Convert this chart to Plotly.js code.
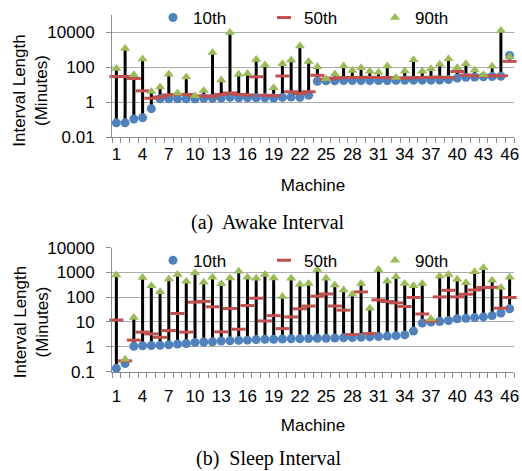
<!DOCTYPE html>
<html>
<head>
<meta charset="utf-8">
<script src="https://cdn.plot.ly/plotly-3.0.1.min.js"></script>
<style>html,body{margin:0;padding:0;background:#fff;}#chart{width:522px;height:471px;}</style>
</head>
<body>
<div id="chart"></div>
<script>
// ---- data ----
var machines = [1,2,3,4,5,6,7,8,9,10,11,12,13,14,15,16,17,18,19,20,21,22,23,24,25,26,27,28,29,30,31,32,33,34,35,36,37,38,39,40,41,42,43,44,45,46];
var xTickVals = [1,4,7,10,13,16,19,22,25,28,31,34,37,40,43,46];
var xTickText = ["1","4","7","10","13","16","19","22","25","28","31","34","37","40","43","46"];

// (a) Awake interval, minutes
var awakeP10 = [0.066,0.066,0.11,0.13,0.43,1.6,1.6,1.6,1.6,1.6,1.7,1.7,1.75,1.9,1.8,1.8,1.8,1.8,1.75,1.9,2.0,1.9,2.5,16,17,17,17.5,17.5,17.5,17.5,17.5,17.5,18,18,18.5,18.5,18.5,19,20,24,27,28,29,30,31,480];
var awakeP50 = [30,30,23,4.5,1.7,2.0,2.6,2.8,2.8,2.2,2.3,2.2,2.8,3.4,2.8,2.6,29,2.5,2.4,32,4,3.2,4,35,21,24,26,26,26,27,26,26,24,24,26,26,27,27,26,58,36,32,32,33,33,220];
var awakeP90 = [85,1200,38,300,4.2,7.5,40,3.4,28,2.4,4.7,700,19,9800,40,45,285,137,6.8,160,260,1700,220,110,22,42,120,66,95,60,52,120,26,62,270,60,83,150,310,95,160,70,38,115,13000,400];

// (b) Sleep interval, minutes
var sleepP10 = [0.135,0.21,1.05,1.1,1.12,1.15,1.2,1.3,1.35,1.5,1.55,1.6,1.7,1.75,1.8,1.85,1.95,2.0,2.0,2.05,2.1,2.1,2.15,2.2,2.2,2.25,2.3,2.35,2.4,2.5,2.6,2.7,2.8,3.0,4.3,9.0,10,10.5,11.5,13.5,14,15,16,18,23,34];
var sleepP50 = [12,0.27,1.85,3.9,3.3,2.4,4.5,22,3.9,63,68,41,4,35,5.1,46,91,11,18,5.4,16,34,44,110,135,44,30,3.1,163,3.4,78,67,59,42,97,21,11,103,190,103,132,195,245,250,36,97];
var sleepP90 = [780,0.31,15,620,290,165,540,830,440,970,400,630,345,600,1100,630,575,820,600,106,575,330,360,1300,575,310,195,132,360,36,1300,450,670,360,290,360,13.5,710,830,525,385,1070,1540,480,245,630];

var awakeYTickVals = [0.01,1,100,10000];
var awakeYTickText = ["0.01","1","100","10000"];
var sleepYTickVals = [0.1,1,10,100,1000,10000];
var sleepYTickText = ["0.1","1","10","100","1000","10000"];

var seriesNames = ["10th","50th","90th"];
var yTitle = "Interval Length<br>(Minutes)";
var xTitle = "Machine";
var captionA = "(a)\u00a0 Awake Interval";
var captionB = "(b)\u00a0 Sleep Interval";

// ---- styles ----
var BLUE = "#4F81BD", RED = "#C0504D", GREEN = "#9BBB59";
var GRID = "#ABABAB", AXIS = "#8C8C8C";
var FONT = "Liberation Sans, Arial, sans-serif";

function rangeLines(p10, p90, xa, ya) {
  var xs = [], ys = [];
  for (var i = 0; i < machines.length; i++) {
    xs.push(machines[i], machines[i], null);
    ys.push(p10[i], p90[i], null);
  }
  return {x: xs, y: ys, xaxis: xa, yaxis: ya, mode: "lines", type: "scatter",
    line: {color: "#000", width: 3}, showlegend: false, hoverinfo: "skip", cliponaxis: false};
}
function pts(vals, idx, xa, ya, leg) {
  var marker;
  if (idx === 0) marker = {symbol: "circle", size: 9, color: BLUE, line: {width: 0}};
  else if (idx === 1) marker = {symbol: "line-ew", size: 10, color: RED, line: {color: RED, width: 3}};
  else marker = {symbol: "triangle-up", size: 9, color: GREEN, line: {width: 0}};
  return {x: machines, y: vals, xaxis: xa, yaxis: ya, mode: "markers", type: "scatter",
    name: seriesNames[idx], marker: marker, legend: leg, cliponaxis: false};
}

var data = [
  rangeLines(awakeP10, awakeP90, "x", "y"),
  pts(awakeP10, 0, "x", "y", "legend"),
  pts(awakeP50, 1, "x", "y", "legend"),
  pts(awakeP90, 2, "x", "y", "legend"),
  rangeLines(sleepP10, sleepP90, "x2", "y2"),
  pts(sleepP10, 0, "x2", "y2", "legend2"),
  pts(sleepP50, 1, "x2", "y2", "legend2"),
  pts(sleepP90, 2, "x2", "y2", "legend2")
];

var H = 471;
function xaxisDef(anchor, standoffLabels, titleStandoff) {
  return {
    anchor: anchor, domain: [0, 1], range: [0.5, 46.5],
    tickmode: "array", tickvals: xTickVals, ticktext: xTickText,
    ticks: "", ticklabelstandoff: standoffLabels,
    minor: {ticks: "outside", ticklen: 5, tick0: 0.5, dtick: 1, tickcolor: AXIS, tickwidth: 1, showgrid: false},
    showgrid: false, zeroline: false, showline: true, linecolor: AXIS, linewidth: 1,
    tickfont: {family: FONT, size: 17, color: "#000"},
    title: {text: xTitle, font: {family: FONT, size: 17, color: "#000"}, standoff: titleStandoff},
    fixedrange: true
  };
}
function yaxisDef(anchor, rng, dom, tv, tt) {
  return {
    anchor: anchor, type: "log", range: rng, domain: dom,
    tickmode: "array", tickvals: tv, ticktext: tt,
    ticks: "outside", ticklen: 5, tickcolor: AXIS, ticklabelstandoff: 8,
    showgrid: true, gridcolor: GRID, gridwidth: 1,
    showline: true, linecolor: AXIS, linewidth: 1, zeroline: false,
    tickfont: {family: FONT, size: 17, color: "#000"},
    fixedrange: true
  };
}

var L = 112, R = 8, PW = 522 - L - R;
function px2x(px) { return (px - L) / PW; }
function px2y(py) { return 1 - py / H; }

var layout = {
  width: 522, height: 471,
  margin: {l: L, r: R, t: 0, b: 0},
  paper_bgcolor: "#fff", plot_bgcolor: "#fff",
  font: {family: FONT, size: 17, color: "#000"},
  xaxis: xaxisDef("y", 1, 16),
  yaxis: yaxisDef("x", [-2, 5], [px2y(134.3), px2y(11.1)], awakeYTickVals, awakeYTickText),
  xaxis2: xaxisDef("y2", 9, 14),
  yaxis2: yaxisDef("x2", [-1, 4], [px2y(370.7), px2y(245.7)], sleepYTickVals, sleepYTickText),
  legend: {orientation: "h", x: px2x(153), xanchor: "left", y: px2y(14), yanchor: "middle",
    bgcolor: "rgba(0,0,0,0)", font: {family: FONT, size: 17, color: "#000"},
    entrywidth: 66, entrywidthmode: "pixels", itemwidth: 30, tracegroupgap: 0},
  legend2: {orientation: "h", x: px2x(153), xanchor: "left", y: px2y(259), yanchor: "middle",
    bgcolor: "rgba(0,0,0,0)", font: {family: FONT, size: 17, color: "#000"},
    entrywidth: 66, entrywidthmode: "pixels", itemwidth: 30, tracegroupgap: 0},
  annotations: [
    {text: yTitle, textangle: -90, xref: "paper", yref: "paper", x: px2x(31), y: px2y(87.5),
      xanchor: "center", yanchor: "middle", showarrow: false, font: {family: FONT, size: 17, color: "#000"}},
    {text: yTitle, textangle: -90, xref: "paper", yref: "paper", x: px2x(31), y: px2y(321),
      xanchor: "center", yanchor: "middle", showarrow: false, font: {family: FONT, size: 17, color: "#000"}},
    {text: captionA, xref: "paper", yref: "paper", x: px2x(268), y: px2y(220),
      xanchor: "center", yanchor: "middle", showarrow: false, font: {family: "Liberation Serif, Times New Roman, serif", size: 20, color: "#000"}},
    {text: captionB, xref: "paper", yref: "paper", x: px2x(268), y: px2y(458),
      xanchor: "center", yanchor: "middle", showarrow: false, font: {family: "Liberation Serif, Times New Roman, serif", size: 20, color: "#000"}}
  ],
  showlegend: true
};

Plotly.newPlot("chart", data, layout, {staticPlot: true, displayModeBar: false});
</script>
</body>
</html>
